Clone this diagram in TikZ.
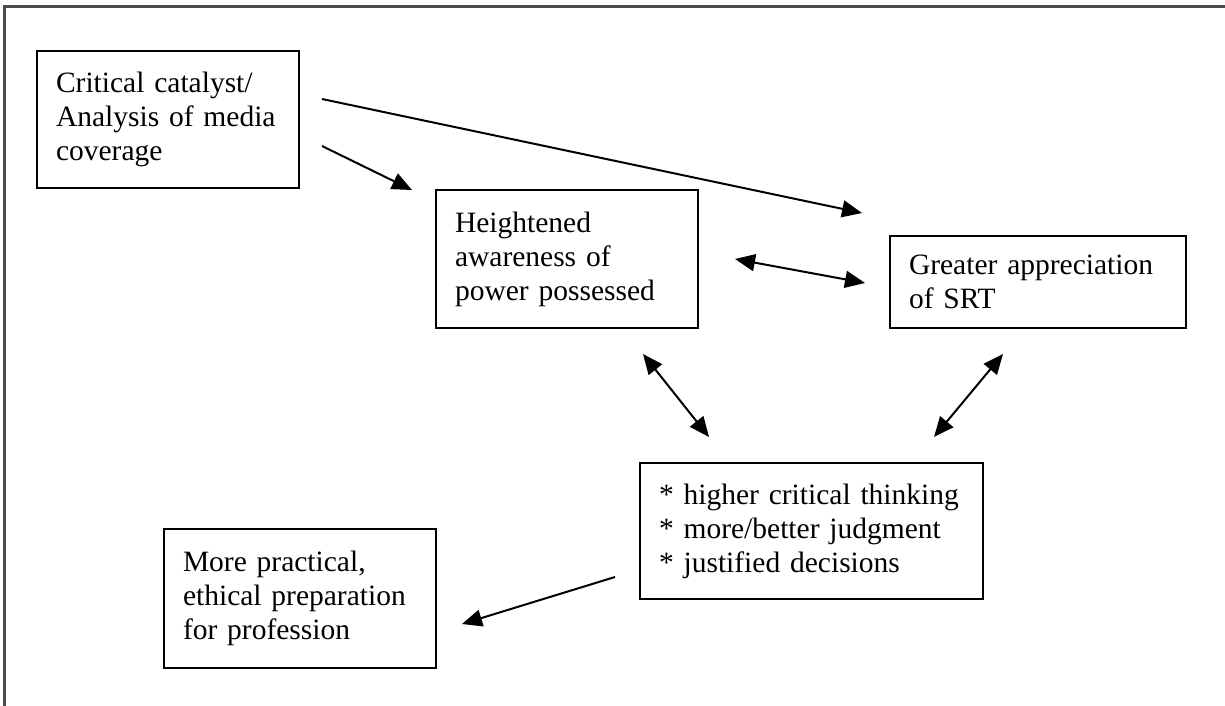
\documentclass[tikz,border=0pt]{standalone}
\usepackage{fontspec}
\setmainfont{Liberation Serif}
\usetikzlibrary{arrows.meta}
\begin{document}
\begin{tikzpicture}[x=0.5pt,y=-0.5pt,
		box/.style={draw,line width=1pt,anchor=north west,align=left,inner xsep=9.5pt,inner ysep=0pt,font=\fontsize{14.75}{17}\selectfont},
		link/.style={line width=1pt,-{Triangle[length=10pt,width=8.5pt]}},
		both/.style={line width=1pt,{Triangle[length=10pt,width=8.5pt]}-{Triangle[length=10pt,width=8.5pt]}}]
			\useasboundingbox (0,0) rectangle (1225,706);
			% frame, open at the right and bottom
			\draw[line width=1.5pt,black!70] (4,706) -- (4,7) -- (1225,7);
			% boxes
			\node[box,text width=112pt,minimum height=68.5pt] (catalyst) at (36,50) {Critical catalyst/\\Analysis of media\\coverage};
			\node[box,text width=112pt,minimum height=69pt] (awareness) at (435,189) {Heightened\\awareness of\\power possessed};
			\node[box,text width=129pt,minimum height=46pt] (srt) at (889,235) {Greater appreciation\\of SRT};
			\node[box,text width=152.5pt,minimum height=68pt] (thinking) at (639,462) {{*} higher critical thinking\\{*} more/better judgment\\{*} justified decisions};
			\node[box,text width=117pt,minimum height=69.5pt] (practice) at (163,528) {More practical,\\ethical preparation\\for profession};
			% arrows
			\draw[link] ([shift={(22,-20.5)}]catalyst.east) -- ([shift={(-27,-22)}]srt.north west);
			\draw[link] ([shift={(22,26.5)}]catalyst.east) -- ([shift={(-23,1)}]awareness.north west);
			\draw[both] ([shift={(36,0)}]awareness.east) -- ([shift={(-24,1)}]srt.west);
			\draw[both] ([shift={(76,25)}]awareness.south) -- ([shift={(-102.5,-25)}]thinking.north);
			\draw[both] ([shift={(-35,25)}]srt.south) -- ([shift={(122.5,-25)}]thinking.north);
			\draw[link] ([shift={(-24,46)}]thinking.west) -- ([shift={(25,25.5)}]practice.east);
\end{tikzpicture}
\end{document}
